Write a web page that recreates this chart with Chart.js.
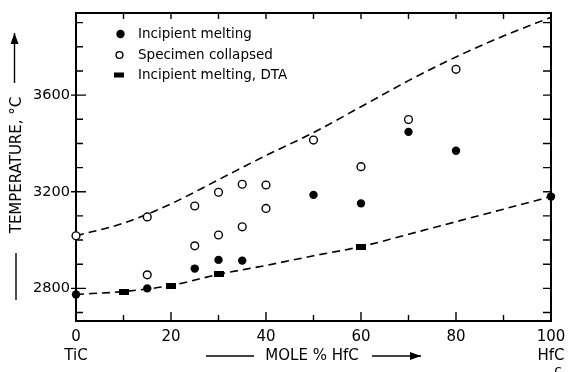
<!DOCTYPE html>
<html>
<head>
<meta charset="utf-8">
<script src="https://cdn.jsdelivr.net/npm/chart.js@4/dist/chart.umd.min.js"></script>
<style>
  html, body { margin: 0; padding: 0; background: #fff; }
</style>
</head>
<body>
<canvas id="chart" width="568" height="372"></canvas>
<script>
// data
const meltX = [0, 15, 25, 30, 35, 50, 60, 70, 80, 100];
const meltT = [2775, 2800, 2882, 2918, 2915, 3187, 3152, 3448, 3370, 3180];

const collapsedX = [0, 15, 15, 25, 25, 30, 30, 35, 35, 40, 40, 50, 60, 70, 80];
const collapsedT = [3018, 3096, 2856, 3141, 2976, 3198, 3021, 3231, 3055, 3228, 3131, 3414, 3304, 3499, 3707];

const dtaX = [10, 20, 30, 60];
const dtaT = [2785, 2810, 2860, 2973];

const upperX = [0, 10, 20, 30, 40, 50, 60, 70, 80, 90, 100];
const upperT = [3018, 3070, 3150, 3250, 3350, 3445, 3552, 3660, 3758, 3845, 3922];

const lowerX = [0, 10, 20, 30, 40, 50, 60, 70, 80, 90, 100];
const lowerT = [2775, 2787, 2812, 2858, 2895, 2935, 2973, 3024, 3076, 3128, 3180];

const xTickValues = [0, 10, 20, 30, 40, 50, 60, 70, 80, 90, 100];
const xTickLabels = [['0', 'TiC'], '', '20', '', '40', '', '60', '', '80', '', ['100', 'HfC']];

const yTickValues = [2700, 2800, 2900, 3000, 3100, 3200, 3300, 3400, 3500, 3600, 3700, 3800, 3900];
const yTickLabels = ['', '2800', '', '', '', '3200', '', '', '', '3600', '', '', ''];

const legendLabels = ['Incipient melting', 'Specimen collapsed', 'Incipient melting, DTA'];

const FONT = '"DejaVu Sans", sans-serif';

const toPoints = (xs, ys) => xs.map((v, i) => ({ x: v, y: ys[i] }));

// little black bar used for the DTA marks
const bar = document.createElement('canvas');
bar.width = 10;
bar.height = 6;
bar.getContext('2d').fillRect(0, 0, 10, 6);

const frame = {
    id: 'frame',
    beforeDatasetsDraw(chart) {
        const { ctx, chartArea: a, scales: { x, y } } = chart;
        ctx.save();
        ctx.strokeStyle = '#000';
        ctx.lineWidth = 1.4;
        ctx.beginPath();
        xTickValues.forEach((v, i) => {
            const px = x.getPixelForValue(v);
            const len = xTickLabels[i] !== '' ? 9 : 6;
            ctx.moveTo(px, a.bottom);
            ctx.lineTo(px, a.bottom - len);
            ctx.moveTo(px, a.top);
            ctx.lineTo(px, a.top + 6);
        });
        yTickValues.forEach((v, i) => {
            const py = y.getPixelForValue(v);
            const major = yTickLabels[i] !== '';
            ctx.moveTo(major ? a.left - 5 : a.left, py);
            ctx.lineTo(a.left + (major ? 10 : 7), py);
            ctx.moveTo(a.right, py);
            ctx.lineTo(a.right - 8, py);
        });
        ctx.stroke();
        ctx.lineWidth = 2;
        ctx.strokeRect(a.left, a.top, a.right - a.left, a.bottom - a.top);
        ctx.restore();
    }
};

const arrow = (ctx, x1, y1, x2, y2) => {
    const ang = Math.atan2(y2 - y1, x2 - x1);
    ctx.beginPath();
    ctx.moveTo(x1, y1);
    ctx.lineTo(x2, y2);
    ctx.stroke();
    ctx.beginPath();
    ctx.moveTo(x2, y2);
    ctx.lineTo(x2 - 11 * Math.cos(ang) + 4 * Math.sin(ang), y2 - 11 * Math.sin(ang) - 4 * Math.cos(ang));
    ctx.lineTo(x2 - 11 * Math.cos(ang) - 4 * Math.sin(ang), y2 - 11 * Math.sin(ang) + 4 * Math.cos(ang));
    ctx.closePath();
    ctx.fill();
};

const decorations = {
    id: 'decorations',
    afterDraw(chart) {
        const { ctx } = chart;
        ctx.save();
        ctx.fillStyle = '#000';
        ctx.strokeStyle = '#000';
        ctx.lineWidth = 1.4;

        // legend
        const rows = [34, 55, 75];
        ctx.font = '13.5px ' + FONT;
        ctx.textBaseline = 'middle';
        ctx.textAlign = 'left';
        legendLabels.forEach((t, i) => ctx.fillText(t, 138, rows[i]));
        ctx.beginPath();
        ctx.arc(120.5, rows[0], 4.2, 0, Math.PI * 2);
        ctx.fill();
        ctx.beginPath();
        ctx.arc(119.5, rows[1], 3.4, 0, Math.PI * 2);
        ctx.stroke();
        ctx.fillRect(114, rows[2] - 2.5, 10, 5);

        // x title
        ctx.font = '15px ' + FONT;
        ctx.textAlign = 'center';
        ctx.fillText('MOLE % HfC', 312, 356);
        ctx.beginPath();
        ctx.moveTo(206, 356);
        ctx.lineTo(254, 356);
        ctx.stroke();
        arrow(ctx, 372, 356, 421, 356);

        // y title
        ctx.save();
        ctx.translate(17, 165);
        ctx.rotate(-Math.PI / 2);
        ctx.fillText('TEMPERATURE, °C', 0, 0);
        ctx.restore();
        ctx.beginPath();
        ctx.moveTo(16, 300);
        ctx.lineTo(16, 253);
        ctx.stroke();
        arrow(ctx, 14.5, 83, 14.5, 33);

        // stray mark under HfC
        ctx.font = '14px ' + FONT;
        ctx.textBaseline = 'top';
        ctx.fillText('c', 558, 364);
        ctx.restore();
    }
};

new Chart(document.getElementById('chart'), {
    type: 'scatter',
    data: {
        datasets: [
            {
                label: legendLabels[0],
                data: toPoints(meltX, meltT),
                pointRadius: 4.2,
                pointBackgroundColor: '#000',
                pointBorderWidth: 0,
                clip: false,
                order: 1
            },
            {
                label: legendLabels[1],
                data: toPoints(collapsedX, collapsedT),
                pointRadius: 3.9,
                pointBackgroundColor: '#fff',
                pointBorderColor: '#000',
                pointBorderWidth: 1.4,
                clip: false,
                order: 1
            },
            {
                label: legendLabels[2],
                data: toPoints(dtaX, dtaT),
                pointStyle: bar,
                clip: false,
                order: 1
            },
            {
                type: 'line',
                data: toPoints(upperX, upperT),
                borderColor: '#000',
                borderWidth: 1.6,
                borderDash: [8, 5],
                pointRadius: 0,
                cubicInterpolationMode: 'monotone',
                fill: false,
                order: 2
            },
            {
                type: 'line',
                data: toPoints(lowerX, lowerT),
                borderColor: '#000',
                borderWidth: 1.6,
                borderDash: [8, 5],
                pointRadius: 0,
                cubicInterpolationMode: 'monotone',
                fill: false,
                order: 2
            }
        ]
    },
    options: {
        responsive: false,
        animation: false,
        devicePixelRatio: 1,
        layout: {
            padding: { left: 0, right: 17, top: 13, bottom: 0 }
        },
        plugins: {
            legend: { display: false },
            tooltip: { enabled: false }
        },
        scales: {
            x: {
                type: 'linear',
                min: 0,
                max: 100,
                afterBuildTicks: (scale) => { scale.ticks = xTickValues.map(v => ({ value: v })); },
                afterFit: (scale) => {
                    scale.height = 51;
                    scale.paddingLeft = 0;
                    scale.paddingRight = 0;
                },
                grid: { display: false, drawTicks: false },
                border: { display: false },
                ticks: {
                    autoSkip: false,
                    maxRotation: 0,
                    padding: 6,
                    color: '#000',
                    font: { family: FONT, size: 15, lineHeight: 1.3 },
                    callback: (v, i) => xTickLabels[i]
                }
            },
            y: {
                type: 'linear',
                min: 2665,
                max: 3940,
                afterBuildTicks: (scale) => { scale.ticks = yTickValues.map(v => ({ value: v })); },
                afterFit: (scale) => {
                    scale.width = 76;
                    scale.paddingTop = 0;
                    scale.paddingBottom = 0;
                },
                grid: { display: false, drawTicks: false },
                border: { display: false },
                ticks: {
                    autoSkip: false,
                    padding: 6,
                    color: '#000',
                    font: { family: FONT, size: 14.5 },
                    callback: (v, i) => yTickLabels[i]
                }
            }
        }
    },
    plugins: [frame, decorations]
});
</script>
</body>
</html>
